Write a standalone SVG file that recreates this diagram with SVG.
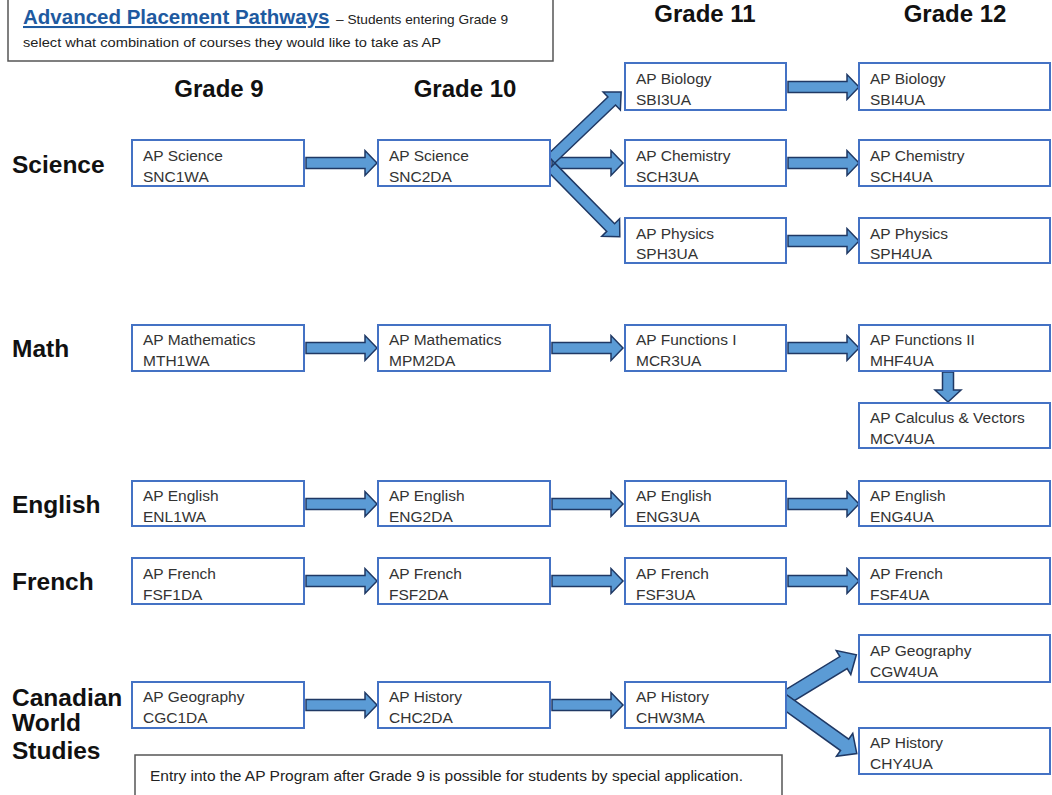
<svg xmlns="http://www.w3.org/2000/svg" width="1052" height="795" viewBox="0 0 1052 795">
<defs>
<style>
.bx{fill:#fff;stroke:#4472C4;stroke-width:2}
.bt{font-family:"Liberation Sans",Arial,sans-serif;font-size:15.5px;fill:#333}
.hd{font-family:"Liberation Sans",Arial,sans-serif;font-size:24px;font-weight:bold;fill:#111}
.rl{font-family:"Liberation Sans",Arial,sans-serif;font-size:24.5px;font-weight:bold;fill:#111}
.ar{fill:#5B9BD5;stroke:#1F3864;stroke-width:1.5;stroke-linejoin:miter}
.nb{fill:#fff;stroke:#555;stroke-width:1.5}
.sm{font-family:"Liberation Sans",Arial,sans-serif;font-size:13.5px;fill:#222}
</style>
<path id="harrow" d="M0,-5.5 H59 V-12.5 L71,0 L59,12.5 V5.5 H0 Z"/>
</defs>
<rect width="1052" height="795" fill="#fff"/>

<g id="header">
<rect class="nb" x="8" y="-2" width="545" height="63"/>
<text x="23" y="24" font-family="Liberation Sans,Arial,sans-serif" font-size="20.5" font-weight="bold" fill="#1E5AA0" text-decoration="underline">Advanced Placement Pathways</text>
<text class="sm" x="336" y="24" textLength="172" lengthAdjust="spacingAndGlyphs">– Students entering Grade 9</text>
<text class="sm" x="23" y="47" textLength="418" lengthAdjust="spacingAndGlyphs">select what combination of courses they would like to take as AP</text>
</g>

<g id="grade-headers">
<text class="hd" x="219" y="97" text-anchor="middle">Grade 9</text>
<text class="hd" x="465" y="97" text-anchor="middle">Grade 10</text>
<text class="hd" x="705" y="22" text-anchor="middle">Grade 11</text>
<text class="hd" x="955" y="22" text-anchor="middle">Grade 12</text>
</g>

<g id="row-labels">
<text class="rl" x="12" y="173">Science</text>
<text class="rl" x="12" y="357">Math</text>
<text class="rl" x="12" y="513">English</text>
<text class="rl" x="12" y="590">French</text>
<text class="rl" x="12" y="706">Canadian</text>
<text class="rl" x="12" y="731">World</text>
<text class="rl" x="12" y="759">Studies</text>
</g>

<g id="connectors">
<!-- Science -->
<use href="#harrow" class="ar" transform="translate(306,163)"/>
<use href="#harrow" class="ar" transform="translate(552,163)"/>
<path class="ar" d="M0,-5.5 H84 V-12.5 L97,0 L84,12.5 V5.5 H0 Z" transform="translate(551,159) rotate(-43.7)"/>
<path class="ar" d="M0,-5.5 H85 V-12.5 L98,0 L85,12.5 V5.5 H0 Z" transform="translate(551,167) rotate(45.4)"/>
<use href="#harrow" class="ar" transform="translate(788,87)"/>
<use href="#harrow" class="ar" transform="translate(788,163)"/>
<use href="#harrow" class="ar" transform="translate(788,241)"/>
<!-- Math -->
<use href="#harrow" class="ar" transform="translate(306,348)"/>
<use href="#harrow" class="ar" transform="translate(552,348)"/>
<use href="#harrow" class="ar" transform="translate(788,348)"/>
<path class="ar" d="M942.5,372 H953.5 V390 H961 L948,402 L935,390 H942.5 Z"/>
<!-- English -->
<use href="#harrow" class="ar" transform="translate(306,504)"/>
<use href="#harrow" class="ar" transform="translate(552,504)"/>
<use href="#harrow" class="ar" transform="translate(788,504)"/>
<!-- French -->
<use href="#harrow" class="ar" transform="translate(306,581)"/>
<use href="#harrow" class="ar" transform="translate(552,581)"/>
<use href="#harrow" class="ar" transform="translate(788,581)"/>
<!-- CWS -->
<use href="#harrow" class="ar" transform="translate(306,705)"/>
<use href="#harrow" class="ar" transform="translate(552,705)"/>
<path class="ar" d="M0,-7 H72 V-14 L87,0 L72,14 V7 H0 Z" transform="translate(782,700) rotate(-31.3)"/>
<path class="ar" d="M0,-7 H77 V-14 L92,0 L77,14 V7 H0 Z" transform="translate(782,700) rotate(35.6)"/>
</g>

<g id="sci9"><rect class="bx" x="132" y="140" width="172" height="46"/><text class="bt" x="143" y="161">AP Science</text><text class="bt" x="143" y="182">SNC1WA</text></g>
<g id="sci10"><rect class="bx" x="378" y="140" width="172" height="46"/><text class="bt" x="389" y="161">AP Science</text><text class="bt" x="389" y="182">SNC2DA</text></g>
<g id="bio11"><rect class="bx" x="625" y="63" width="161" height="47"/><text class="bt" x="636" y="84">AP Biology</text><text class="bt" x="636" y="105">SBI3UA</text></g>
<g id="chem11"><rect class="bx" x="625" y="140" width="161" height="46"/><text class="bt" x="636" y="161">AP Chemistry</text><text class="bt" x="636" y="182">SCH3UA</text></g>
<g id="phys11"><rect class="bx" x="625" y="218" width="161" height="45"/><text class="bt" x="636" y="239">AP Physics</text><text class="bt" x="636" y="259">SPH3UA</text></g>
<g id="bio12"><rect class="bx" x="859" y="63" width="191" height="47"/><text class="bt" x="870" y="84">AP Biology</text><text class="bt" x="870" y="105">SBI4UA</text></g>
<g id="chem12"><rect class="bx" x="859" y="140" width="191" height="46"/><text class="bt" x="870" y="161">AP Chemistry</text><text class="bt" x="870" y="182">SCH4UA</text></g>
<g id="phys12"><rect class="bx" x="859" y="218" width="191" height="45"/><text class="bt" x="870" y="239">AP Physics</text><text class="bt" x="870" y="259">SPH4UA</text></g>

<g id="math9"><rect class="bx" x="132" y="325" width="172" height="46"/><text class="bt" x="143" y="345">AP Mathematics</text><text class="bt" x="143" y="366">MTH1WA</text></g>
<g id="math10"><rect class="bx" x="378" y="325" width="172" height="46"/><text class="bt" x="389" y="345">AP Mathematics</text><text class="bt" x="389" y="366">MPM2DA</text></g>
<g id="math11"><rect class="bx" x="625" y="325" width="161" height="46"/><text class="bt" x="636" y="345">AP Functions I</text><text class="bt" x="636" y="366">MCR3UA</text></g>
<g id="math12"><rect class="bx" x="859" y="325" width="191" height="46"/><text class="bt" x="870" y="345">AP Functions II</text><text class="bt" x="870" y="366">MHF4UA</text></g>
<g id="calc12"><rect class="bx" x="859" y="403" width="191" height="45"/><text class="bt" x="870" y="423">AP Calculus &amp; Vectors</text><text class="bt" x="870" y="444">MCV4UA</text></g>

<g id="eng9"><rect class="bx" x="132" y="481" width="172" height="45"/><text class="bt" x="143" y="501">AP English</text><text class="bt" x="143" y="522">ENL1WA</text></g>
<g id="eng10"><rect class="bx" x="378" y="481" width="172" height="45"/><text class="bt" x="389" y="501">AP English</text><text class="bt" x="389" y="522">ENG2DA</text></g>
<g id="eng11"><rect class="bx" x="625" y="481" width="161" height="45"/><text class="bt" x="636" y="501">AP English</text><text class="bt" x="636" y="522">ENG3UA</text></g>
<g id="eng12"><rect class="bx" x="859" y="481" width="191" height="45"/><text class="bt" x="870" y="501">AP English</text><text class="bt" x="870" y="522">ENG4UA</text></g>

<g id="fr9"><rect class="bx" x="132" y="558" width="172" height="46"/><text class="bt" x="143" y="579">AP French</text><text class="bt" x="143" y="600">FSF1DA</text></g>
<g id="fr10"><rect class="bx" x="378" y="558" width="172" height="46"/><text class="bt" x="389" y="579">AP French</text><text class="bt" x="389" y="600">FSF2DA</text></g>
<g id="fr11"><rect class="bx" x="625" y="558" width="161" height="46"/><text class="bt" x="636" y="579">AP French</text><text class="bt" x="636" y="600">FSF3UA</text></g>
<g id="fr12"><rect class="bx" x="859" y="558" width="191" height="46"/><text class="bt" x="870" y="579">AP French</text><text class="bt" x="870" y="600">FSF4UA</text></g>

<g id="cws9"><rect class="bx" x="132" y="682" width="172" height="46"/><text class="bt" x="143" y="702">AP Geography</text><text class="bt" x="143" y="723">CGC1DA</text></g>
<g id="cws10"><rect class="bx" x="378" y="682" width="172" height="46"/><text class="bt" x="389" y="702">AP History</text><text class="bt" x="389" y="723">CHC2DA</text></g>
<g id="cws11"><rect class="bx" x="625" y="682" width="161" height="46"/><text class="bt" x="636" y="702">AP History</text><text class="bt" x="636" y="723">CHW3MA</text></g>
<g id="geo12"><rect class="bx" x="859" y="635" width="191" height="47"/><text class="bt" x="870" y="656">AP Geography</text><text class="bt" x="870" y="677">CGW4UA</text></g>
<g id="his12"><rect class="bx" x="859" y="728" width="191" height="46"/><text class="bt" x="870" y="748">AP History</text><text class="bt" x="870" y="769">CHY4UA</text></g>

<g id="footer">
<rect class="nb" x="135" y="755" width="647" height="45"/>
<text x="150" y="781" font-family="Liberation Sans,Arial,sans-serif" font-size="15" fill="#222" textLength="593" lengthAdjust="spacingAndGlyphs">Entry into the AP Program after Grade 9 is possible for students by special application.</text>
</g>
</svg>
